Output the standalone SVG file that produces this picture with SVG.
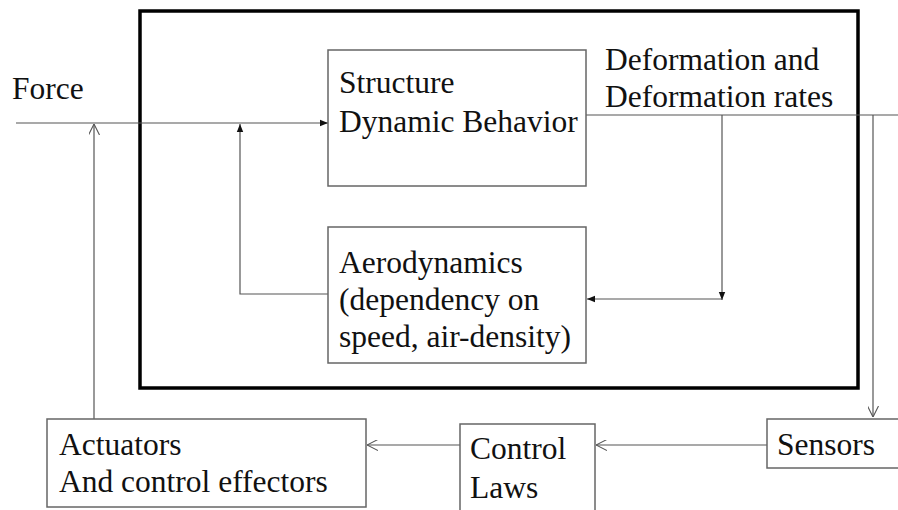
<svg xmlns="http://www.w3.org/2000/svg" width="898" height="510" viewBox="0 0 898 510">
<defs>
<marker id="fa" viewBox="0 0 10 10" refX="10" refY="5" markerWidth="8" markerHeight="8" markerUnits="userSpaceOnUse" orient="auto"><path d="M0,1 L10,5 L0,9 Z" fill="#111"/></marker>
<marker id="oa" viewBox="0 0 10 10" refX="10" refY="5" markerWidth="11" markerHeight="11" markerUnits="userSpaceOnUse" orient="auto"><path d="M0,0 L10,5 L0,10" fill="none" stroke="#555" stroke-width="1"/></marker>
</defs>
<style>
text{font-family:"Liberation Serif","Times New Roman",serif;font-size:31.5px;fill:#111}
.box{fill:#fff;stroke:#666;stroke-width:1.5}
.ln{fill:none;stroke:#555;stroke-width:1.2}
</style>
<rect x="0" y="0" width="898" height="510" fill="#fff"/>
<g id="system"><rect x="140" y="11" width="718" height="377" fill="none" stroke="#000" stroke-width="3.5"/></g>
<g id="connectors">
<path class="ln" d="M16,123 H328" marker-end="url(#fa)"/>
<path class="ln" d="M328,294 H240 V124" marker-end="url(#fa)"/>
<path class="ln" d="M586,115 H898"/>
<path class="ln" d="M722,115 V299"/>
<path class="ln" d="M722,299 V300" marker-end="url(#fa)"/>
<path class="ln" d="M722,299 H587" marker-end="url(#fa)"/>
<path class="ln" d="M873,115 V417" marker-end="url(#oa)"/>
<path class="ln" d="M767,445 H596" marker-end="url(#oa)"/>
<path class="ln" d="M460,445 H367" marker-end="url(#oa)"/>
<path class="ln" d="M94,419 V124" marker-end="url(#oa)"/>
</g>
<g id="force"><text x="12" y="99">Force</text></g>
<g id="deformation"><text x="605" y="70">Deformation and</text><text x="605" y="107">Deformation rates</text></g>
<g id="structure"><rect class="box" x="328" y="50" width="258" height="136"/><text x="339" y="93">Structure</text><text x="339" y="132">Dynamic Behavior</text></g>
<g id="aerodynamics"><rect class="box" x="328" y="227" width="258" height="136"/><text x="339" y="273">Aerodynamics</text><text x="339" y="310">(dependency on</text><text x="339" y="347">speed, air-density)</text></g>
<g id="sensors"><rect class="box" x="767" y="419" width="140" height="49"/><text x="777" y="455">Sensors</text></g>
<g id="control"><rect class="box" x="460" y="424" width="135" height="100"/><text x="470" y="459">Control</text><text x="470" y="498">Laws</text></g>
<g id="actuators"><rect class="box" x="47" y="419" width="319" height="88"/><text x="59" y="455">Actuators</text><text x="59" y="492">And control effectors</text></g>
</svg>
